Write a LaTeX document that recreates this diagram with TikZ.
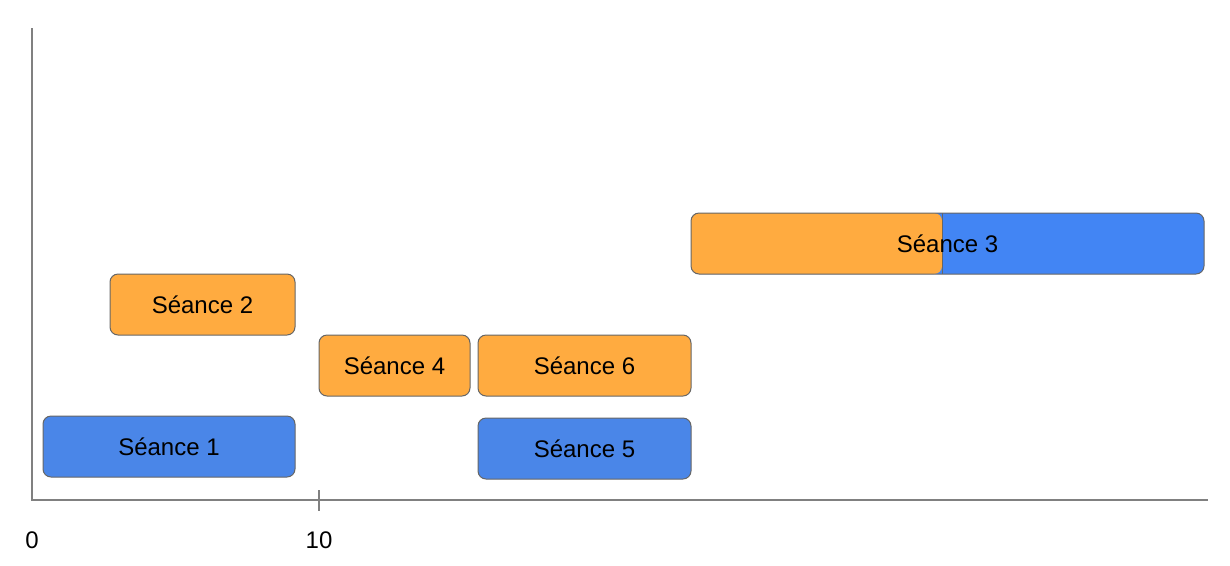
\documentclass[tikz,border=0pt]{standalone}
\usepackage{fontspec}
\setmainfont{Liberation Sans}
\usetikzlibrary{calc}
\definecolor{blueS}{HTML}{4A86E8}
\definecolor{blueT}{HTML}{4285F4}
\definecolor{orangeS}{HTML}{FFAB40}
\definecolor{edgeS}{HTML}{666666}
\definecolor{axisS}{HTML}{808080}
\tikzset{
  seance/.style={draw=edgeS,line width=0.75pt,rounded corners=6pt,minimum height=45.75pt,
    inner sep=0pt,font=\fontsize{18}{21}\selectfont},
  axisline/.style={draw=axisS,line width=0.9pt},
  ticklabel/.style={font=\fontsize{18}{21}\selectfont}
}
\begin{document}
\begin{tikzpicture}[x=0.75pt,y=-0.75pt]
                \useasboundingbox (0,0) rectangle (1230,565);
                % axes
                \coordinate (O) at (32,500);
                \coordinate (ytop) at (32,28);
                \coordinate (xend) at (1208,500);
                \coordinate (t10) at (319,500);
                \draw[axisline] (ytop) -- (O) -- (xend);
                \draw[axisline] ($(t10)+(0,-10)$) -- ($(t10)+(0,11)$);
                \node[ticklabel] (l0) at (32,540) {0};
                \node[ticklabel] (l10) at (319,540) {10};
                % seances
                \node[seance,fill=blueS,minimum width=189pt] (s1) at (169,446.5) {Séance 1};
                \node[seance,fill=orangeS,minimum width=138.75pt] (s2) at (202.5,304.5) {Séance 2};
                \node[seance,fill=orangeS,minimum width=113.25pt] (s4) at (394.5,365.5) {Séance 4};
                \node[seance,fill=orangeS,minimum width=159.75pt] (s6) at (584.5,365.5) {Séance 6};
                \node[seance,fill=blueS,minimum width=159.75pt] (s5) at (584.5,448.5) {Séance 5};
                \node[seance,fill=blueT,minimum width=384.75pt,
                  path picture={
                    \fill[orangeS] (path picture bounding box.north west) rectangle
                      ([xshift=188.25pt]path picture bounding box.south west);
                    \draw[edgeS,line width=0.75pt] ([xshift=188.25pt]path picture bounding box.north west) --
                      ([xshift=188.25pt]path picture bounding box.south west);
                  }] (s3) at (947.5,243.5) {Séance 3};
            \end{tikzpicture}
\end{document}
